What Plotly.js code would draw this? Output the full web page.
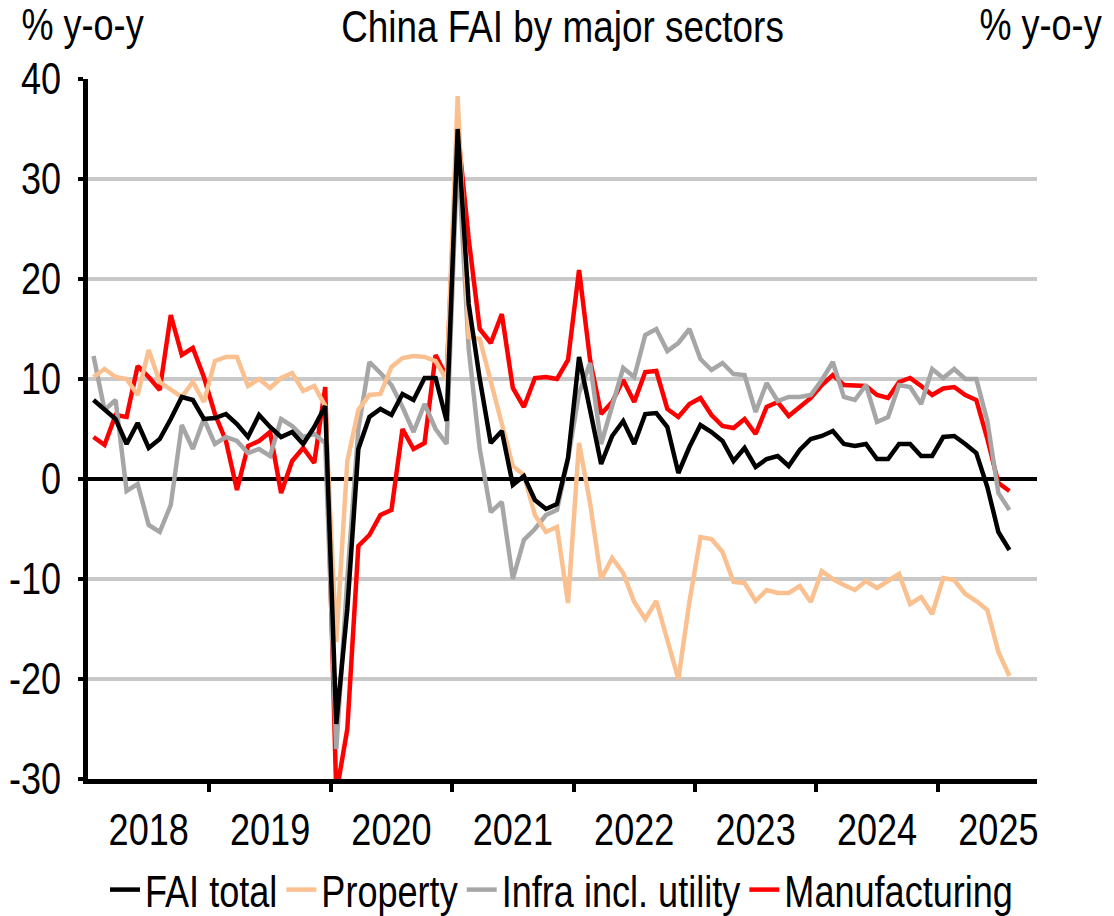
<!DOCTYPE html>
<html>
<head>
<meta charset="utf-8">
<script src="https://cdn.plot.ly/plotly-3.0.1.min.js"></script>
<style>
  html, body { margin: 0; padding: 0; background: #fff; }
  #chart { width: 1114px; height: 916px; }
</style>
</head>
<body>
<div id="chart"></div>
<script>
// ---- categories: China reports Jan-Feb combined, so 11 periods per year ----
const years = [2018, 2019, 2020, 2021, 2022, 2023, 2024, 2025];
const periodNames = ['Jan-Feb', 'Mar', 'Apr', 'May', 'Jun', 'Jul', 'Aug', 'Sep', 'Oct', 'Nov', 'Dec'];
const lastYearPeriods = 7;      // 2025 data through Aug
const lastYearSlots = 9;        // axis runs to Oct 2025

const categories = [];
years.forEach((y, yi) => {
  const n = yi === years.length - 1 ? lastYearPeriods : periodNames.length;
  for (let m = 0; m < n; m++) categories.push(periodNames[m] + ' ' + y);
});

// ---- series (% y-o-y) ----
const faiTotal = [
  7.9, 7.0, 6.0, 3.5, 5.6, 3.1, 4.0, 6.0, 8.2, 7.9, 6.0,
  6.1, 6.5, 5.5, 4.2, 6.4, 5.2, 4.2, 4.7, 3.5, 5.2, 7.3,
  -24.5, -13.0, 3.0, 6.2, 7.0, 6.4, 8.5, 7.9, 10.1, 10.1, 5.8,
  35.0, 17.5, 10.0, 3.6, 4.8, -0.6, 0.3, -2.1, -3.0, -2.5, 2.1,
  12.2, 6.9, 1.5, 4.3, 5.8, 3.5, 6.5, 6.6, 5.2, 0.6, 3.2,
  5.4, 4.7, 3.8, 1.8, 3.1, 1.2, 2.0, 2.3, 1.3, 2.9, 4.0,
  4.3, 4.8, 3.5, 3.3, 3.5, 2.0, 2.0, 3.5, 3.5, 2.3, 2.3,
  4.2, 4.3, 3.5, 2.6, -0.8, -5.3, -7.1
];
const property = [
  10.2, 11.0, 10.2, 10.0, 8.4, 12.9, 9.7, 8.9, 8.2, 9.7, 7.7,
  11.8, 12.2, 12.2, 9.3, 10.0, 9.1, 10.1, 10.6, 8.8, 9.3, 7.3,
  -16.3, 1.8, 6.9, 8.4, 8.5, 11.2, 12.1, 12.3, 12.2, 11.8, 9.9,
  38.3, 14.2, 14.0, 9.7, 5.3, 1.3, 0.4, -3.6, -5.3, -4.8, -12.4,
  3.6, -2.4, -10.0, -7.9, -9.4, -12.3, -14.0, -12.2, -16.0, -20.0, -12.3,
  -5.8, -6.0, -7.3, -10.3, -10.4, -12.2, -11.1, -11.4, -11.4, -10.7, -12.3,
  -9.2, -10.0, -10.6, -11.1, -10.2, -10.9, -10.2, -9.5, -12.5, -11.8, -13.5,
  -9.9, -10.1, -11.5, -12.2, -13.1, -17.3, -19.7
];
const infra = [
  12.3, 6.9, 7.9, -1.2, -0.5, -4.6, -5.3, -2.6, 5.4, 3.0, 6.0,
  3.5, 4.2, 3.8, 2.6, 3.0, 2.3, 6.0, 5.3, 4.2, 4.5, 3.6,
  -27.0, -10.0, 5.0, 11.7, 10.6, 9.4, 7.2, 4.7, 7.5, 5.0, 3.5,
  33.0, 13.0, 3.0, -3.3, -2.3, -10.0, -6.1, -5.0, -3.6, -3.1, 2.0,
  8.6, 11.6, 3.5, 7.3, 11.1, 10.2, 14.4, 15.0, 12.8, 13.6, 15.0,
  12.0, 10.9, 11.6, 10.5, 10.4, 6.7, 9.6, 7.8, 8.2, 8.2, 8.4,
  9.9, 11.7, 8.2, 7.9, 9.4, 5.7, 6.2, 9.4, 9.2, 7.5, 11.0,
  10.1, 11.0, 10.0, 10.0, 5.8, -1.4, -3.1
];
const manufacturing = [
  4.2, 3.4, 6.4, 6.2, 11.3, 10.2, 8.9, 16.4, 12.4, 13.1, 10.2,
  6.5, 3.8, -1.1, 3.3, 3.8, 4.7, -1.4, 1.8, 3.1, 1.6, 9.2,
  -31.5, -25.0, -6.7, -5.6, -3.6, -3.1, 5.0, 3.0, 3.6, 12.4, 10.2,
  35.0, 24.0, 15.0, 13.6, 16.5, 9.1, 7.2, 10.1, 10.2, 10.0, 11.9,
  20.9, 11.9, 6.5, 7.7, 9.9, 7.7, 10.7, 10.8, 7.0, 6.2, 7.5,
  8.1, 6.4, 5.3, 5.1, 6.0, 4.5, 7.2, 7.7, 6.3, 7.2, 8.1,
  9.4, 10.4, 9.4, 9.4, 9.3, 8.4, 8.1, 9.7, 10.1, 9.3, 8.4,
  9.05, 9.2, 8.4, 7.9, 4.0, -0.4, -1.2
];

// ---- tick labels ----
const yTickVals = [-30, -20, -10, 0, 10, 20, 30, 40];
const yTickText = ['-30', '-20', '-10', '0', '10', '20', '30', '40'];
const yearLabels = years.map(String);

// ---- derived positions (period index) ----
const xIdx = categories.map((_, i) => i);
const perYear = periodNames.length;
const totalSlots = perYear * (years.length - 1) + lastYearSlots;
const yearBoundaries = years.map((_, i) => i * perYear - 0.5).slice(1);
const yearCenters = years.map((_, i) => i * perYear + (perYear - 1) / 2);

const FONT = 'Liberation Sans, Arial, sans-serif';
const FS = 44;
const NARROW = 0.82;   // horizontal squeeze to mimic Arial Narrow

const mk = (name, y, color, rank) => ({
  type: 'scatter', mode: 'lines', name: name, x: xIdx, y: y,
  text: categories, hoverinfo: 'text+y',
  line: { color: color, width: 4.5 }, legendrank: rank
});

const data = [
  mk('Manufacturing', manufacturing, '#ff0000', 4),
  mk('Infra incl. utility', infra, '#a6a6a6', 3),
  mk('Property', property, '#fac090', 2),
  mk('FAI total', faiTotal, '#000000', 1)
];

const W = 1114, H = 916, L = 88, R = 77, T = 79, B = 137;
const plotW = W - L - R, plotH = H - T - B;
const fnt = (s) => ({ family: FONT, size: s || FS, color: '#000' });

const layout = {
  width: W, height: H,
  margin: { l: L, r: R, t: T, b: B, pad: 0, autoexpand: false },
  paper_bgcolor: '#ffffff', plot_bgcolor: '#ffffff',
  font: fnt(),
  showlegend: true,
  title: {
    text: 'China FAI by major sectors', font: fnt(45),
    x: 0.5, xref: 'paper', xanchor: 'center',
    y: 1 - 26 / H, yref: 'container', yanchor: 'middle'
  },
  xaxis: {
    range: [-0.5, totalSlots - 0.5],
    tickvals: yearCenters, ticktext: yearLabels,
    ticks: 'outside', ticklen: 8, tickcolor: 'rgba(0,0,0,0)',
    minor: { tickvals: yearBoundaries, ticks: 'outside', ticklen: 8, tickwidth: 4,
             tickcolor: '#000', showgrid: false },
    showline: true, linecolor: '#000', linewidth: 5,
    showgrid: false, zeroline: false,
    tickfont: fnt(), fixedrange: true
  },
  yaxis: {
    range: [-30, 40], tickvals: yTickVals, ticktext: yTickText,
    ticks: 'outside', ticklen: 5, tickwidth: 4, tickcolor: '#000',
    ticklabelstandoff: 8,
    showline: true, linecolor: '#000', linewidth: 5,
    showgrid: true, gridcolor: '#c8c8c8', gridwidth: 4,
    zeroline: true, zerolinecolor: '#000', zerolinewidth: 4,
    tickfont: fnt(), fixedrange: true
  },
  yaxis2: {
    overlaying: 'y', side: 'right',
    range: [-30, 40], tickvals: yTickVals, ticktext: yTickText,
    ticks: 'outside', ticklen: 9, tickwidth: 4, tickcolor: '#000',
    ticklabelstandoff: 6,
    showline: true, linecolor: '#000', linewidth: 5,
    showgrid: false, zeroline: false,
    tickfont: fnt(), fixedrange: true
  },
  legend: {
    orientation: 'h', x: 0.5, xanchor: 'center', xref: 'paper',
    y: (T + plotH - 890) / plotH, yanchor: 'middle',
    entrywidth: 190, entrywidthmode: 'pixels',
    font: fnt(), traceorder: 'normal', bgcolor: 'rgba(0,0,0,0)'
  },
  annotations: [
    { text: '% y-o-y', xref: 'paper', yref: 'paper',
      x: (82 - L) / plotW, xanchor: 'center', y: (plotH + T - 25) / plotH, yanchor: 'middle',
      showarrow: false, font: fnt() },
    { text: '% y-o-y', xref: 'paper', yref: 'paper',
      x: (1040 - L) / plotW, xanchor: 'center', y: (plotH + T - 25) / plotH, yanchor: 'middle',
      showarrow: false, font: fnt() }
  ]
};

function matE(el) {
  const tl = el.transform && el.transform.baseVal;
  if (!tl || !tl.numberOfItems) return 0;
  return tl.consolidate().matrix.e;
}

Plotly.newPlot('chart', data, layout, { displayModeBar: false, staticPlot: true }).then(gd => {
  // legend: measure text widths before squeezing
  const items = Array.from(gd.querySelectorAll('.legend .traces'));
  items.sort((a, b) => matE(a) - matE(b));
  const widths = items.map(it => it.querySelector('.legendtext').getBBox().width * NARROW);

  // squeeze every text horizontally around its anchor
  gd.querySelectorAll('svg text').forEach(el => {
    if (!el.textContent.trim()) return;
    const x = parseFloat(el.getAttribute('x')) || 0;
    const tr = el.getAttribute('transform') || '';
    el.setAttribute('transform', tr + ' translate(' + x + ',0) scale(' + NARROW + ',1) translate(' + (-x) + ',0)');
  });

  // re-flow the legend entries with the narrower text, centred under the plot
  const legend = gd.querySelector('.legend');
  const scroll = gd.querySelector('.legend .scrollbox');
  [legend, scroll].forEach(g => g && g.removeAttribute('clip-path'));
  gd.querySelectorAll('.legend [clip-path]').forEach(g => g.removeAttribute('clip-path'));
  const baseX = matE(legend) + (scroll ? matE(scroll) : 0);
  const gap = 4;
  const origins = [];
  let o = 0;
  widths.forEach(w => { origins.push(o); o += 40 + w + gap; });
  const spanStart = origins[0] + 5;
  const spanEnd = origins[origins.length - 1] + 40 + widths[widths.length - 1];
  const centre = L + plotW / 2 - 1;
  const shift = centre - (spanStart + spanEnd) / 2 - baseX;
  items.forEach((it, i) => {
    const tl = it.transform.baseVal.consolidate();
    const yy = tl ? tl.matrix.f : 0;
    it.setAttribute('transform', 'translate(' + (origins[i] + shift) + ',' + yy + ')');
  });
});
</script>
</body>
</html>
